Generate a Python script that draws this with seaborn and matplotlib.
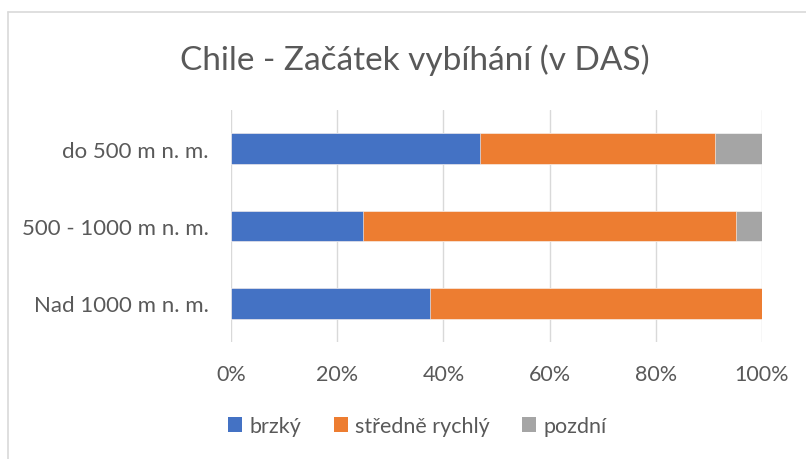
import numpy as np
import pandas as pd
import seaborn as sns
import matplotlib.pyplot as plt
from matplotlib.lines import Line2D
from matplotlib.patches import Patch

# data (percent of each altitude group)
categories = ['do 500 m n. m.', '500 - 1000 m n. m.', 'Nad 1000 m n. m.']
brzky = [46.8, 24.9, 37.4]
stredne = [44.4, 70.2, 62.6]
pozdni = [8.8, 4.9, 0.0]
series = ['brzký', 'středně rychlý', 'pozdní']
colors = ['#4472C4', '#ED7D31', '#A5A5A5']

sns.set_style('white')
plt.rcParams['font.family'] = ['Lato', 'DejaVu Sans']

df = pd.DataFrame({'kat': categories, 'brzky': brzky,
                   'stredne': stredne, 'pozdni': pozdni})
df['c1'] = df['brzky']
df['c2'] = df['brzky'] + df['stredne']
df['c3'] = df['c2'] + df['pozdni']

fig = plt.figure(figsize=(8.06, 4.6), dpi=100)
ax = fig.add_axes([0.2866, 0.2543, 0.9454 - 0.2866, 0.7587 - 0.2543])

# stacked bars: draw cumulative totals from the back to the front
for col, c in zip(['c3', 'c2', 'c1'], colors[::-1]):
    sns.barplot(data=df, y='kat', x=col, orient='h', color=c, width=0.4,
                saturation=1, edgecolor='white', linewidth=0.4, ax=ax)

ax.set_xlim(0, 100)
ax.set_ylim(2.5, -0.5)
ax.set_xticks(np.arange(0, 101, 20))
ax.set_xticklabels([f'{t}%' for t in range(0, 101, 20)])
ax.set_xlabel('')
ax.set_ylabel('')
ax.xaxis.grid(True, color='#D9D9D9', linewidth=1)
ax.set_axisbelow(True)
for s in ax.spines.values():
    s.set_visible(False)
ax.tick_params(axis='both', length=0, labelsize=15.5, colors='#595959')
ax.tick_params(axis='x', pad=16)
ax.tick_params(axis='y', labelsize=16, pad=16)

fig.text(0.515, 0.87, 'Chile - Začátek vybíhání (v DAS)', ha='center', va='center',
         fontsize=24, color='#595959')

handles = [Patch(facecolor=c, edgecolor='none') for c in colors]
fig.legend(handles, series, loc='center', bbox_to_anchor=(0.518, 0.072),
           ncol=3, frameon=False, fontsize=15.5, handlelength=0.65,
           handleheight=0.65, handletextpad=0.35, columnspacing=1.5,
           labelcolor='#595959')

# chart border (top and left edges visible in the reference)
fig.add_artist(Line2D([8 / 806, 1.0], [1 - 13 / 460, 1 - 13 / 460],
                      color='#D9D9D9', linewidth=1.2, transform=fig.transFigure))
fig.add_artist(Line2D([8 / 806, 8 / 806], [0.0, 1 - 13 / 460],
                      color='#D9D9D9', linewidth=1.2, transform=fig.transFigure))

fig.savefig('out.png', dpi=100, facecolor='white')
